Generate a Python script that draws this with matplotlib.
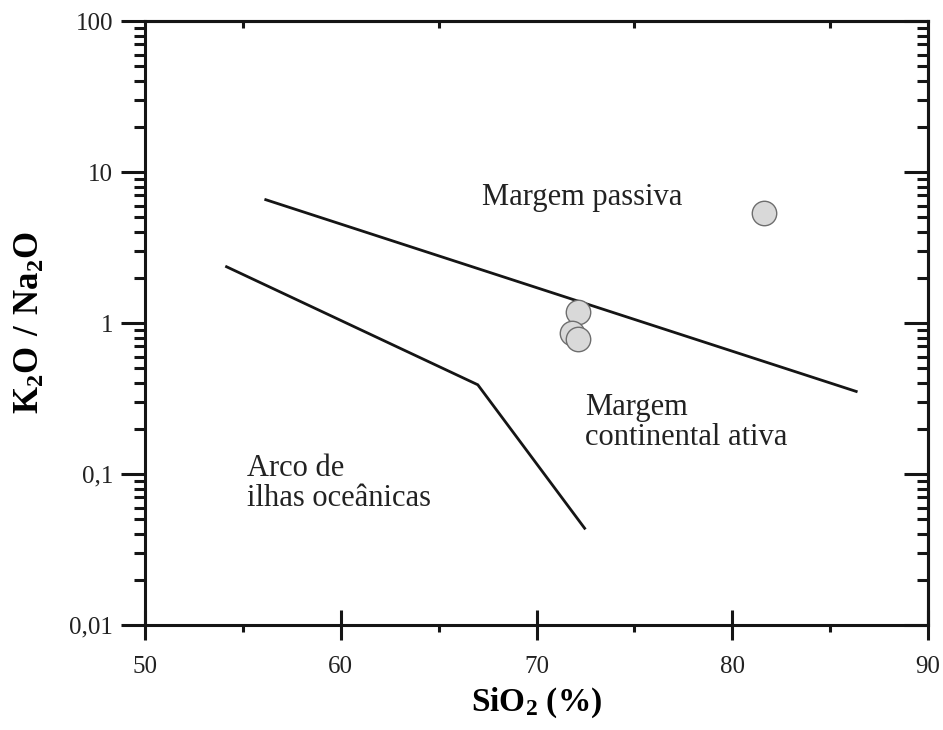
import matplotlib
matplotlib.use("Agg")

import matplotlib.pyplot as plt
from matplotlib.ticker import FixedLocator, FixedFormatter, LogLocator, NullFormatter

plt.rcParams["font.family"] = ["Liberation Serif", "DejaVu Serif"]
plt.rcParams["mathtext.fontset"] = "custom"
plt.rcParams["mathtext.rm"] = "Liberation Serif"
plt.rcParams["mathtext.bf"] = "Liberation Serif:bold"

# --- data -------------------------------------------------------------------
# boundary: margem passiva / margem continental ativa
pm_sio2 = [56.1, 86.4]
pm_ratio = [6.6, 0.35]

# boundary: margem continental ativa / arco de ilhas oceanicas
arc_sio2 = [54.1, 67.0, 72.5]
arc_ratio = [2.38, 0.39, 0.043]

# samples
sample_sio2 = [81.6, 72.1, 71.8, 72.1]
sample_ratio = [5.35, 1.18, 0.86, 0.78]

y_ticks = [0.01, 0.1, 1, 10, 100]
y_tick_labels = ["0,01", "0,1", "1", "10", "100"]
x_ticks = [50, 60, 70, 80, 90]

INK = "#151515"

# --- figure -----------------------------------------------------------------
fig = plt.figure(figsize=(9.43, 7.30), dpi=100)
ax = fig.add_axes([0.1538, 0.1438, 0.8303, 0.8274])

ax.plot(pm_sio2, pm_ratio, color=INK, lw=2.0, solid_capstyle="butt")
ax.plot(arc_sio2, arc_ratio, color=INK, lw=2.0, solid_capstyle="butt",
        solid_joinstyle="miter")
ax.scatter(sample_sio2, sample_ratio, s=310, facecolor="#d9d9d9",
           edgecolor="#6e6e6e", linewidth=1.0, zorder=3)

ax.set_yscale("log")
ax.set_xlim(50, 90)
ax.set_ylim(0.01, 100)

ax.yaxis.set_major_locator(FixedLocator(y_ticks))
ax.yaxis.set_major_formatter(FixedFormatter(y_tick_labels))
ax.yaxis.set_minor_locator(LogLocator(base=10, subs=range(2, 10), numticks=20))
ax.yaxis.set_minor_formatter(NullFormatter())

ax.xaxis.set_major_locator(FixedLocator(x_ticks))
ax.xaxis.set_minor_locator(FixedLocator([55, 65, 75, 85]))

for sp in ax.spines.values():
    sp.set_linewidth(2.2)
    sp.set_color(INK)

# left: outward ticks; bottom: crossing majors
ax.tick_params(axis="y", which="major", direction="out", length=17, width=2.2,
               labelsize=18, pad=6, colors=INK, labelcolor="#222222")
ax.tick_params(axis="y", which="minor", direction="out", length=8, width=2.2,
               colors=INK)
ax.tick_params(axis="x", which="major", direction="inout", length=21, width=2.2,
               labelsize=18, pad=12, colors=INK, labelcolor="#222222")
ax.tick_params(axis="x", which="minor", direction="out", length=5, width=2.2,
               colors=INK)

# right side: inward ticks, no labels
ay = ax.secondary_yaxis("right")
ay.yaxis.set_major_locator(FixedLocator(y_ticks))
ay.yaxis.set_minor_locator(LogLocator(base=10, subs=range(2, 10), numticks=20))
ay.yaxis.set_major_formatter(NullFormatter())
ay.yaxis.set_minor_formatter(NullFormatter())
ay.tick_params(which="major", direction="in", length=17, width=2.2, colors=INK)
ay.tick_params(which="minor", direction="in", length=8, width=2.2, colors=INK)
ay.spines["right"].set_linewidth(2.2)

# top: short inward ticks
axx = ax.secondary_xaxis("top")
axx.xaxis.set_major_locator(FixedLocator([55, 65, 75, 85]))
axx.xaxis.set_major_formatter(NullFormatter())
axx.tick_params(which="major", direction="in", length=5, width=2.2, colors=INK)
axx.spines["top"].set_linewidth(2.2)

ax.set_xlabel(r"$\mathbf{SiO_2}$ (%)", fontsize=24, fontweight="bold", labelpad=5)
ax.set_ylabel(r"$\mathbf{K_2O\ /\ Na_2O}$", fontsize=25, labelpad=16)

ax.text(67.2, 6.8, "Margem passiva", fontsize=22, ha="left", va="center",
        color="#222222")
ax.text(72.5, 0.22, "Margem\ncontinental ativa", fontsize=22, ha="left",
        va="center", color="#222222", linespacing=1.05)
ax.text(55.2, 0.087, "Arco de\nilhas oceânicas", fontsize=22, ha="left",
        va="center", color="#222222", linespacing=1.05)

fig.savefig("out.png", dpi=100)
